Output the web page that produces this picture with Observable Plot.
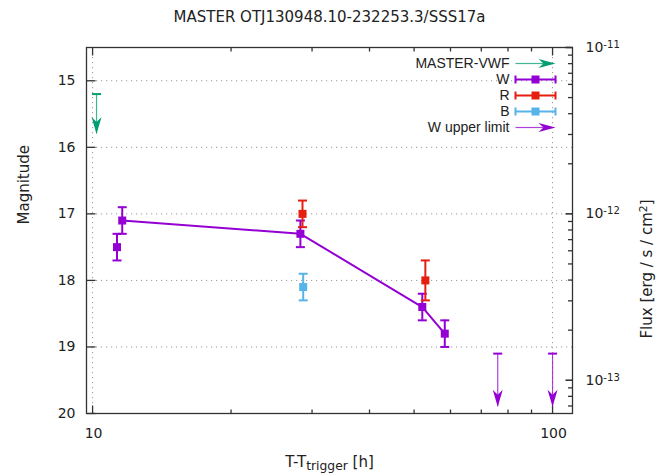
<!DOCTYPE html>
<html><head><meta charset="utf-8">
<script src="https://cdn.jsdelivr.net/npm/d3@7"></script>
<script src="https://cdn.jsdelivr.net/npm/@observablehq/plot@0.6"></script>
<style>html,body{margin:0;padding:0;background:#fff;} svg{display:block}</style>
</head><body><div id="chart"></div>
<script>
// ---- texts ----
const title = "MASTER OTJ130948.10-232253.3/SSS17a";
const xLabel = "T-T_{trigger} [h]";
const yLabel = "Magnitude";
const y2Label = "Flux [erg / s / cm^{2}]";

// ---- data ----
const wTime = [11.3, 11.6, 28.3, 52.1, 58.3];
const wMag  = [17.5, 17.1, 17.3, 18.4, 18.8];
const wErr  = [0.2, 0.2, 0.2, 0.2, 0.2];
const wConnected = [false, true, true, true, true];

const rTime = [28.6, 52.9];
const rMag  = [17.0, 18.0];
const rErr  = [0.2, 0.3];

const bTime = [28.7];
const bMag  = [18.1];
const bErr  = [0.2];

const vwfTime = [10.2];
const vwfMag  = [15.2];
const vwfArrowTo = [15.8];

const ulTime = [76, 100];
const ulMag  = [19.1, 19.1];
const ulArrowTo = [19.9, 19.9];

// ---- axes ----
const magTicks = [15, 16, 17, 18, 19, 20];
const magGrid = [15, 16, 17, 18, 19];
const xMajorTicks = [10, 100];
const xMinorTicks = [20, 30, 40, 50, 60, 70, 80, 90];
const fluxMajor = [1e-11, 1e-12, 1e-13];
const fluxMajorLabels = ["10^{-11}", "10^{-12}", "10^{-13}"];
const fluxMinor = [9e-12, 8e-12, 7e-12, 6e-12, 5e-12, 4e-12, 3e-12, 2e-12,
                   9e-13, 8e-13, 7e-13, 6e-13, 5e-13, 4e-13, 3e-13, 2e-13,
                   9e-14, 8e-14, 7e-14];
const fluxRef = 1e-12, fluxRefMag = 17;
const fluxToMag = f => fluxRefMag - 2.5 * Math.log10(f / fluxRef);

const legendLabels = ["MASTER-VWF", "W", "R", "B", "W upper limit"];

// ---- styles ----
const PURPLE = "#9400d3", RED = "#e51e10", BLUE = "#56b4e9", GREEN = "#009e73";
const legendColors = [GREEN, PURPLE, RED, BLUE, PURPLE];
const legendKinds = ["arrow", "err", "err", "err", "arrow"];
const AX = "#333";

const rows = (t, m, e) => t.map((x, i) => ({x, m: m[i], e: e ? e[i] : 0}));
const W = rows(wTime, wMag, wErr);
const R = rows(rTime, rMag, rErr);
const B = rows(bTime, bMag, bErr);
const VWF = vwfTime.map((x, i) => ({x, m: vwfMag[i], to: vwfArrowTo[i]}));
const UL = ulTime.map((x, i) => ({x, m: ulMag[i], to: ulArrowTo[i]}));

// ---- custom symbols ----
const hSeg = (a, b) => ({draw(c) { c.moveTo(a, 0); c.lineTo(b, 0); }});
const vSeg = (a, b) => ({draw(c) { c.moveTo(0, a); c.lineTo(0, b); }});
const squareSym = {draw(c) { c.rect(-4, -4, 8, 8); }};
const headDown = {draw(c) { c.moveTo(0, 0); c.lineTo(-5, -17); c.lineTo(0, -12); c.lineTo(5, -17); c.closePath(); }};
const headRight = {draw(c) { c.moveTo(0, 0); c.lineTo(-17, -4.5); c.lineTo(-12, 0); c.lineTo(-17, 4.5); c.closePath(); }};
const errLegend = {draw(c) { c.moveTo(-20, 0); c.lineTo(20, 0); c.moveTo(-20, -4); c.lineTo(-20, 4); c.moveTo(20, -4); c.lineTo(20, 4); }};

function errorMarks(data, color) {
  return [
    Plot.ruleX(data, {x: "x", y1: d => d.m - d.e, y2: d => d.m + d.e, stroke: color, strokeWidth: 2}),
    Plot.dot(data, {x: "x", y: d => d.m - d.e, symbol: hSeg(-4.5, 4.5), fill: "none", stroke: color, strokeWidth: 2}),
    Plot.dot(data, {x: "x", y: d => d.m + d.e, symbol: hSeg(-4.5, 4.5), fill: "none", stroke: color, strokeWidth: 2}),
    Plot.dot(data, {x: "x", y: "m", symbol: squareSym, fill: color, stroke: "none"})
  ];
}
function limitMarks(data, color) {
  return [
    Plot.ruleX(data, {x: "x", y1: "m", y2: d => d.to, stroke: color, strokeWidth: 1.2, strokeOpacity: 0.75}),
    Plot.dot(data, {x: "x", y: "m", symbol: hSeg(-4.5, 4.5), fill: "none", stroke: color, strokeWidth: 2}),
    Plot.dot(data, {x: "x", y: "to", symbol: headDown, fill: color, stroke: "none"})
  ];
}
function legendMarks() {
  const out = [];
  legendLabels.forEach((label, i) => {
    const dy = 16 * (i + 1), col = legendColors[i];
    out.push(Plot.text([label], {frameAnchor: "top-right", dx: -63, dy, textAnchor: "end", lineAnchor: "middle",
      fontFamily: "Liberation Sans, Arial, sans-serif", fontSize: 14, fill: "#222"}));
    if (legendKinds[i] === "err") {
      out.push(Plot.dot([label], {frameAnchor: "top-right", dx: -37, dy, symbol: errLegend, fill: "none", stroke: col, strokeWidth: 2}));
      out.push(Plot.dot([label], {frameAnchor: "top-right", dx: -37, dy, symbol: squareSym, fill: col, stroke: "none"}));
    } else {
      out.push(Plot.dot([label], {frameAnchor: "top-right", dx: -37, dy, symbol: hSeg(-20, 8), fill: "none", stroke: col, strokeWidth: 1.2, strokeOpacity: 0.75}));
      out.push(Plot.dot([label], {frameAnchor: "top-right", dx: -17, dy, symbol: headRight, fill: col, stroke: "none"}));
    }
  });
  return out;
}

const chart = Plot.plot({
  width: 670,
  height: 475,
  marginLeft: 86,
  marginRight: 98,
  marginTop: 47,
  marginBottom: 62,
  style: {fontFamily: "DejaVu Sans, sans-serif", fontSize: "14px", color: "#222", background: "#fff"},
  x: {type: "log", domain: [9.7, 110.5], axis: null},
  y: {domain: [14.5, 20], reverse: true, axis: null},
  marks: [
    // grid
    Plot.ruleY(magGrid, {y: d => d, stroke: "#999", strokeWidth: 1, strokeDasharray: "1.2,3.8"}),
    Plot.ruleX(xMajorTicks, {x: d => d, stroke: "#999", strokeWidth: 1, strokeDasharray: "1.2,3.8"}),
    // frame
    Plot.frame({stroke: AX, strokeWidth: 1.3}),
    // left ticks
    Plot.dot(magTicks, {y: d => d, frameAnchor: "left", symbol: hSeg(0, 9), fill: "none", stroke: AX, strokeWidth: 1.3}),
    // bottom & top x ticks
    Plot.dot(xMajorTicks, {x: d => d, frameAnchor: "bottom", symbol: vSeg(-8, 0), fill: "none", stroke: AX, strokeWidth: 1.3}),
    Plot.dot(xMinorTicks, {x: d => d, frameAnchor: "bottom", symbol: vSeg(-4, 0), fill: "none", stroke: AX, strokeWidth: 1.3}),
    Plot.dot(xMajorTicks, {x: d => d, frameAnchor: "top", symbol: vSeg(0, 8), fill: "none", stroke: AX, strokeWidth: 1.3}),
    Plot.dot(xMinorTicks, {x: d => d, frameAnchor: "top", symbol: vSeg(0, 4), fill: "none", stroke: AX, strokeWidth: 1.3}),
    // right flux ticks
    Plot.dot(fluxMajor, {y: fluxToMag, frameAnchor: "right", symbol: hSeg(-7, 0), fill: "none", stroke: AX, strokeWidth: 1.6}),
    Plot.dot(fluxMinor, {y: fluxToMag, frameAnchor: "right", symbol: hSeg(-4.5, 0), fill: "none", stroke: AX, strokeWidth: 1.3}),
    // tick labels
    Plot.text(magTicks, {y: d => d, text: d => String(d), frameAnchor: "left", textAnchor: "end", dx: -11, fontSize: 14, fill: "#222"}),
    Plot.text(xMajorTicks, {x: d => d, text: d => String(d), frameAnchor: "bottom", lineAnchor: "middle", dy: 20.5, dx: 1, fontSize: 14, fill: "#222"}),
    Plot.text(fluxMajor, {y: fluxToMag, text: (d, i) => fluxMajorLabels[i], frameAnchor: "right", textAnchor: "start", dx: 13, fontSize: 14, fill: "#222"}),
    // data
    Plot.line(W.filter((d, i) => wConnected[i]), {x: "x", y: "m", stroke: PURPLE, strokeWidth: 2}),
    ...errorMarks(W, PURPLE),
    ...errorMarks(R, RED),
    ...errorMarks(B, BLUE),
    ...limitMarks(VWF, GREEN),
    ...limitMarks(UL, PURPLE),
    // legend
    ...legendMarks(),
    // titles
    Plot.text([title], {frameAnchor: "top", dy: -30, lineAnchor: "middle", fontSize: 15, fill: "#222"}),
    Plot.text([xLabel], {frameAnchor: "bottom", dy: 49, lineAnchor: "middle", fontSize: 15, fill: "#222"}),
    Plot.text([yLabel], {frameAnchor: "left", dx: -62, dy: -6, rotate: -90, lineAnchor: "middle", fontSize: 15, fill: "#222"}),
    Plot.text([y2Label], {frameAnchor: "right", dx: 75, dy: -31, rotate: -90, lineAnchor: "middle", fontSize: 15, fill: "#222"})
  ]
});

// convert ^{..} and _{..} into real superscript / subscript tspans
d3.select(chart).selectAll("text").each(function () {
  const s = this.textContent;
  if (!/[\^_]\{/.test(s)) return;
  const parts = [], re = /([\^_])\{([^}]*)\}/g;
  let last = 0, m;
  while ((m = re.exec(s))) {
    if (m.index > last) parts.push({t: s.slice(last, m.index)});
    parts.push({t: m[2], k: m[1]});
    last = re.lastIndex;
  }
  if (last < s.length) parts.push({t: s.slice(last)});
  this.textContent = "";
  const el = d3.select(this);
  for (const p of parts) {
    const ts = el.append("tspan").text(p.t);
    if (p.k === "^") ts.attr("baseline-shift", "45%").attr("font-size", "72%");
    else if (p.k === "_") ts.attr("baseline-shift", "-25%").attr("font-size", "82%");
  }
});

document.getElementById("chart").appendChild(chart);
</script>
</body></html>
